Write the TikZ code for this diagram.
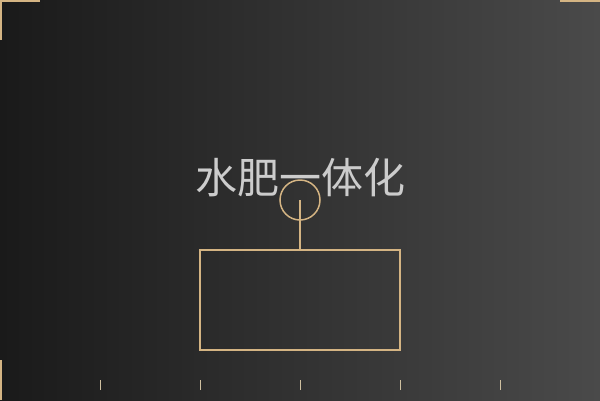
\documentclass[tikz,border=0pt]{standalone}
\usepackage{fontspec}
\newfontfamily\cjk{Noto Sans CJK SC}
\definecolor{gold}{HTML}{D4B483}
\definecolor{tick}{HTML}{CFC0A0}
\definecolor{txt}{HTML}{CCCCCC}
\definecolor{bgl}{HTML}{1A1A1A}
\definecolor{bgr}{HTML}{4A4A4A}
\begin{document}
\begin{tikzpicture}[x=1pt,y=-1pt,
  goldline/.style={draw=gold,line width=1.5pt},
  tickline/.style={draw=tick,line width=1pt},
  cornerline/.style={draw=gold,line width=4pt}]
\useasboundingbox (0,0) rectangle (600,400);
\shade[left color=bgl,right color=bgr] (0,0) rectangle (600,400);
\begin{scope}
\clip (0,0) rectangle (600,400);
\draw[cornerline] (0,40) -- (0,0) -- (40,0);
\draw[cornerline] (560,0) -- (600,0);
\draw[cornerline] (0,360) -- (0,400);
\end{scope}
\node[text=txt,font=\cjk\fontsize{42}{42}\selectfont,anchor=center] (title) at (300,178) {水肥一体化};
\node[goldline,circle,minimum size=40pt,inner sep=0pt] (c) at (300,200) {};
\coordinate (cc) at (300,200);
\node[goldline,rectangle,minimum width=200pt,minimum height=100pt,inner sep=0pt] (box) at (300,300) {};
\draw[goldline] (cc) -- (box.north);
\foreach \x in {100,200,300,400,500}{
  \draw[tickline] (\x,380) -- (\x,390);
}
\end{tikzpicture}
\end{document}
